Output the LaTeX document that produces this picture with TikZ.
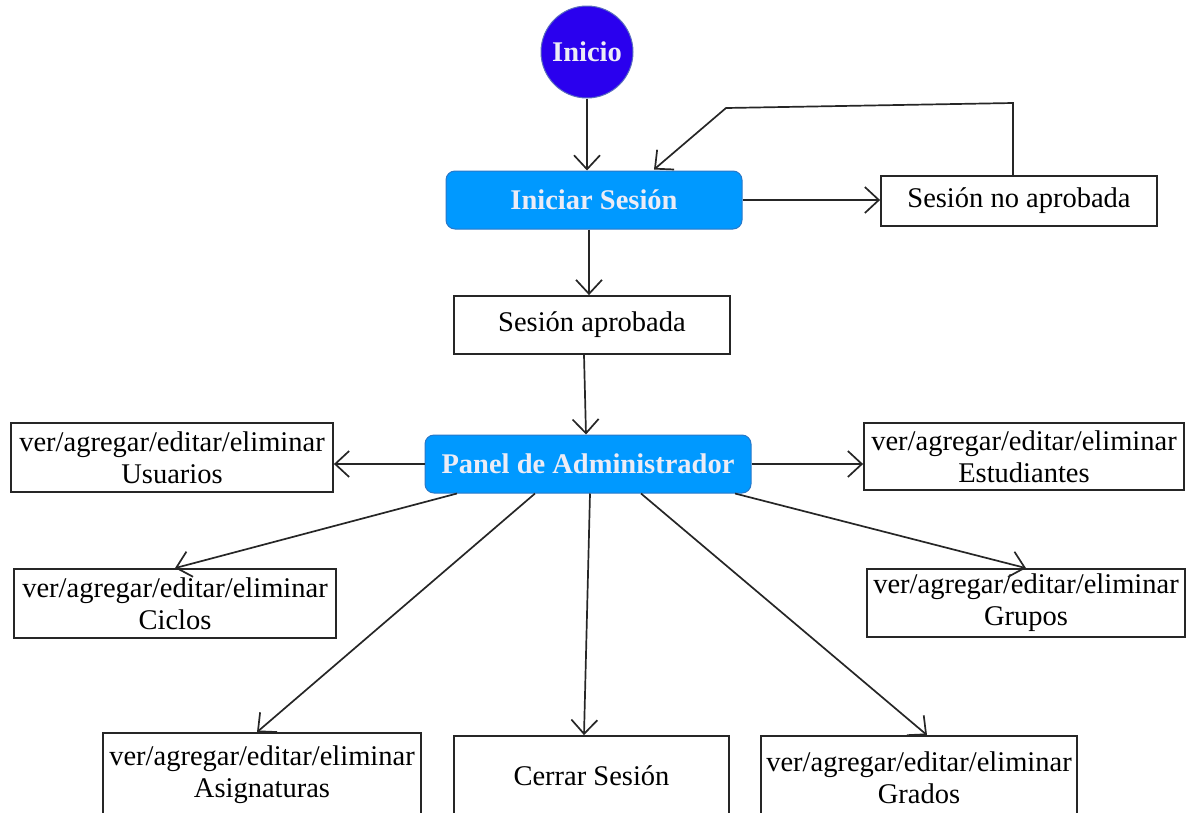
\documentclass[tikz,border=0pt]{standalone}
\usepackage{fontspec}
\setmainfont{Liberation Serif}
\usetikzlibrary{arrows.meta,calc}
\definecolor{inicioblue}{RGB}{42,0,238}
\definecolor{inicioedge}{RGB}{90,110,190}
\definecolor{azul}{RGB}{0,153,255}
\definecolor{azuledge}{RGB}{40,120,200}
\definecolor{claro}{RGB}{236,236,246}
\tikzset{
  txt/.style={font=\fontsize{28.5}{32}\selectfont},
  box/.style={txt, draw=black!85, line width=1.8pt, fill=white, inner sep=0pt, align=center},
  bluebox/.style={txt, font=\fontsize{28.5}{32}\selectfont\bfseries, draw=azuledge, line width=1pt, fill=azul, text=claro, rounded corners=9pt, inner sep=0pt},
  arr/.style={-{Straight Barb[length=14pt,width=26pt]}, line width=1.7pt, draw=black!85}
}
\begin{document}
\begin{tikzpicture}[x=1pt,y=-1pt]
\useasboundingbox (0,0) rectangle (1192,812);
\node[circle, txt, font=\fontsize{28.5}{32}\selectfont\bfseries, fill=inicioblue, draw=inicioedge, line width=1pt, text=claro, minimum size=92pt, inner sep=0pt] (inicio) at (587,52) {Inicio};
\node[bluebox, minimum width=296pt, minimum height=58pt] (iniciar) at (594,200) {Iniciar Sesión};
\node[box, minimum width=276pt, minimum height=50pt] (noap) at (1019,201) {Sesión no aprobada};
\node[box, minimum width=276pt, minimum height=58pt] (aprob) at (592,325) {Sesión aprobada};
\node[box, minimum width=322pt, minimum height=69pt] (usu) at (172,457.5) {ver/agregar/editar/eliminar\\Usuarios};
\node[box, minimum width=320pt, minimum height=67pt] (est) at (1024,456.5) {ver/agregar/editar/eliminar\\Estudiantes};
\node[box, minimum width=322pt, minimum height=69pt] (cic) at (175,603.5) {ver/agregar/editar/eliminar\\Ciclos};
\node[box, minimum width=318pt, minimum height=68pt] (gru) at (1026,603) {ver/agregar/editar/eliminar\\Grupos};
\node[box, minimum width=318pt, minimum height=84pt] (asig) at (262,775) {ver/agregar/editar/eliminar\\Asignaturas};
\node[box, minimum width=275pt, minimum height=80pt] (cerrar) at (591.5,776) {Cerrar Sesión};
\node[box, minimum width=316pt, minimum height=84pt] (grados) at (919,778) {ver/agregar/editar/eliminar\\Grados};
\node[bluebox, minimum width=326pt, minimum height=58pt] (panel) at (588,464) {Panel de Administrador};
% connectors
\draw[arr] (inicio) -- (inicio |- iniciar.north);
\draw[arr] (iniciar.east) -- (noap.west |- iniciar.east);
\coordinate (loopA) at (1013,103);
\coordinate (loopB) at (726,108);
\draw[arr] ($(noap.north)+(-6,0)$) -- (loopA) -- (loopB) -- ($(iniciar.north)+(60,-1)$);
\draw[arr] ($(iniciar.south)+(-5,0)$) -- ($(aprob.north)+(-3,0)$);
\draw[arr] ($(aprob.south)+(-8,0)$) -- ($(panel.north)+(-2,0)$);
\draw[arr] (panel.west) -- (usu.east |- panel.west);
\draw[arr] (panel.east) -- (est.west |- panel.east);
\draw[arr] ($(panel.south)+(-131,0)$) -- (cic.north);
\draw[arr] ($(panel.south)+(-53,0)$) -- ($(asig.north)+(-5,0)$);
\draw[arr] ($(panel.south)+(2,0)$) -- ($(cerrar.north)+(-7.5,0)$);
\draw[arr] ($(panel.south)+(53,0)$) -- ($(grados.north)+(8,0)$);
\draw[arr] ($(panel.south)+(147,0)$) -- (gru.north);
\end{tikzpicture}
\end{document}
